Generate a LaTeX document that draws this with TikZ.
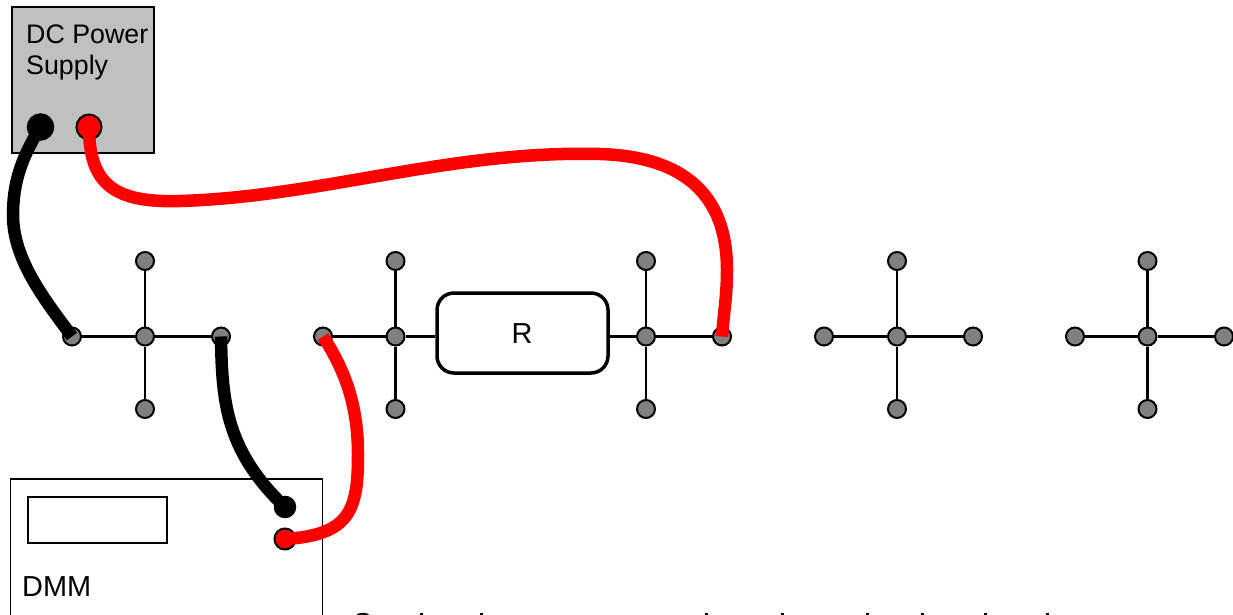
\documentclass[tikz,border=0pt]{standalone}
\usepackage{fontspec}
\setmainfont{Liberation Sans}
\tikzset{
  lbl/.style={inner sep=0pt,font=\fontsize{26.8}{31}\selectfont,text=black},
  lblb/.style={inner sep=0pt,font=\fontsize{28.9}{31}\selectfont,text=black},
  box/.style={draw=black,line width=2pt},
  thinbox/.style={draw=black,line width=1.6pt},
  joint/.style={circle,draw=black,fill=gray50,line width=2pt,minimum size=18pt,inner sep=0pt},
  arm/.style={draw=black,line width=2.2pt},
  blackterm/.style={circle,draw=black,fill=black,line width=1.5pt,inner sep=0pt},
  redterm/.style={circle,draw=black,fill=red,line width=2pt,inner sep=0pt},
  blackwire/.style={draw=black,line width=12.5pt,line cap=butt},
  redwire/.style={draw=red,line width=12.5pt,line cap=butt},
  tip/.style={fill=black,draw=none}
}
\definecolor{gray50}{HTML}{808080}
\definecolor{psugray}{HTML}{C0C0C0}
\begin{document}
\begin{tikzpicture}[x=1pt,y=-1pt]
\clip (0,0) rectangle (1233,615);
% instruments
\node[box,fill=psugray,minimum width=142pt,minimum height=146pt,inner sep=0pt] (psu) at (83,80) {};
\node[thinbox,fill=white,minimum width=312pt,minimum height=180pt,inner sep=0pt] (dmm) at (166.5,569) {};
\node[box,fill=white,minimum width=139pt,minimum height=46pt,inner sep=0pt] (disp) at (97.5,520) {};
\node[lbl,anchor=base west] (psutext1) at (26,44) {DC Power};
\node[lbl,anchor=base west] (psutext2) at (26,75) {Supply};
\node[lblb,anchor=base west] (dmmtext) at (22,596) {DMM};
% resistor
\node[draw=black,line width=3.5pt,rounded corners=17pt,minimum width=171pt,minimum height=80pt,inner sep=0pt,fill=white] (R) at (522.5,333) {};
\node[lblb] (Rtext) at (522,334) {R};
% hubs
\foreach \n/\x in {a/145,b/395.5,c/646,d/897,e/1147.5}{
  \node[joint] (\n c) at (\x,336.5) {};
  \node[joint] (\n t) at (\x,261) {};
  \node[joint] (\n b) at (\x,409) {};
  \draw[arm] (\n c) -- (\n t);
  \draw[arm] (\n c) -- (\n b);
}
\node[joint] (al) at (72,336.5) {};
\node[joint] (ar) at (221,336.5) {};
\node[joint] (bl) at (323,336.5) {};
\node[joint] (cr) at (722,336.5) {};
\node[joint] (dl) at (824,336.5) {};
\node[joint] (dr) at (973,336.5) {};
\node[joint] (el) at (1075,336.5) {};
\node[joint] (er) at (1224,336.5) {};
\draw[arm] (al) -- (ac);
\draw[arm] (ac) -- (ar);
\draw[arm] (bl) -- (bc);
\draw[arm] (bc) -- (bc -| R.west);
\draw[arm] (cc -| R.east) -- (cc);
\draw[arm] (cc) -- (cr);
\draw[arm] (dl) -- (dc);
\draw[arm] (dc) -- (dr);
\draw[arm] (el) -- (ec);
\draw[arm] (ec) -- (er);
% terminals
\node[blackterm,minimum size=26pt] (psuneg) at (40.5,127) {};
\node[redterm,minimum size=25pt] (psupos) at (89,127) {};
\node[blackterm,minimum size=21pt] (dmmneg) at (285,507) {};
\node[redterm,minimum size=21pt] (dmmpos) at (285,539) {};
% wires
\draw[blackwire] (psuneg.center) .. controls (20,160) and (13,185) .. (13,215)
  .. controls (13,260) and (45,300) .. (al.center);
\draw[redwire] (psupos.center) .. controls (89,185) and (115,203) .. (180,201)
  .. controls (320,197) and (450,150) .. (600,154)
  .. controls (695,157) and (727,205) .. (727,270)
  .. controls (727,295) and (724,310) .. (cr.center);
\draw[blackwire] (ar.center) .. controls (222,400) and (225,450) .. (dmmneg.center);
\draw[redwire] (bl.center) .. controls (345,370) and (358,405) .. (358,455)
  .. controls (358,510) and (350,535) .. (dmmpos.center);
% line of text cut off by the lower edge of the picture
\node[lblb,anchor=base west] (cuttext) at (353,633) {S};
\foreach \x in {421,481,706,782,867,922,985,1047}{
  \fill[tip] (\x-1.5,612.8) rectangle (\x+1.5,615);
}
\end{tikzpicture}
\end{document}
